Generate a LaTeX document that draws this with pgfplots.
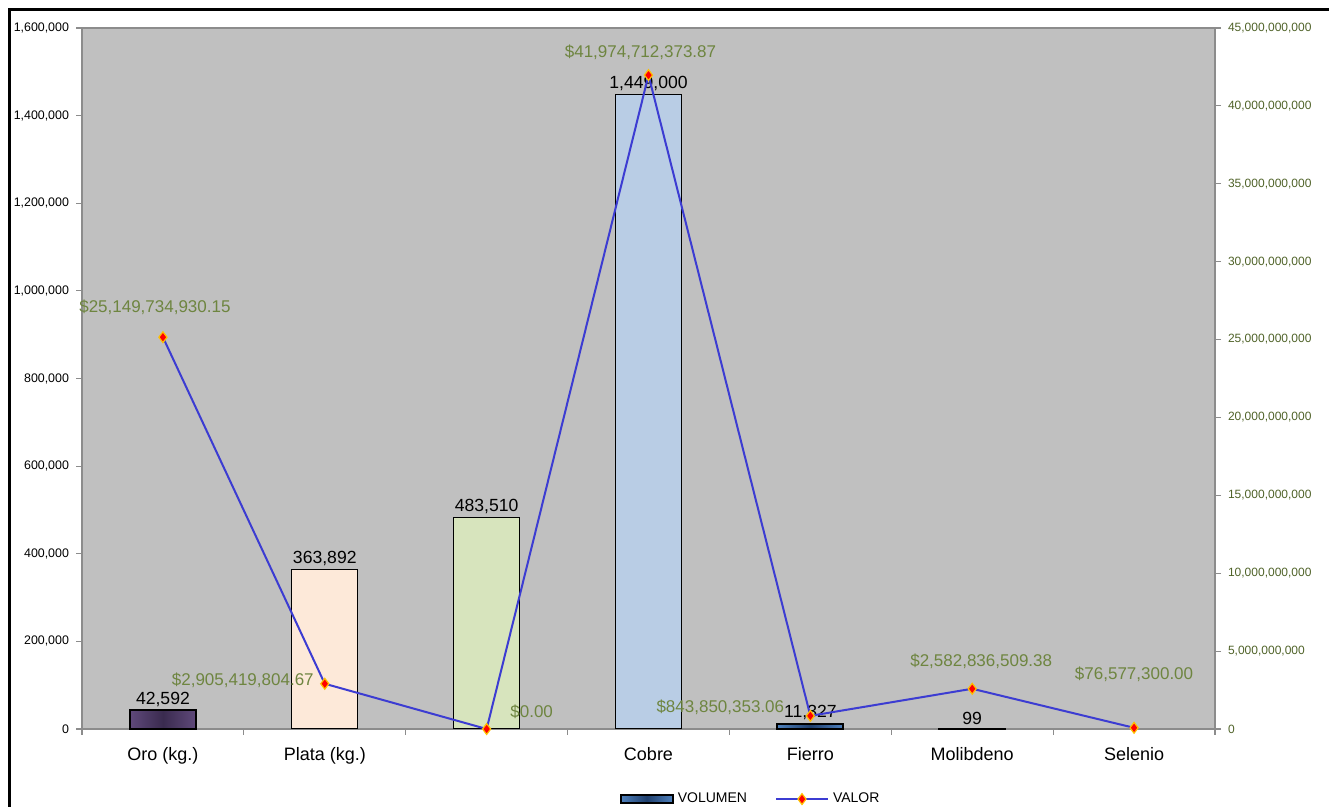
\documentclass[border=0pt]{standalone}
\usepackage{pgfplots}
\pgfplotsset{compat=1.18}
\usepackage{fontspec}
\setmainfont{Liberation Sans}
\definecolor{bgc}{HTML}{C0C0C0}
\definecolor{axgray}{HTML}{8C8C8C}
\definecolor{oro1}{HTML}{5F497A}
\definecolor{oro2}{HTML}{3A2B4F}
\definecolor{plata}{HTML}{FDE9D9}
\definecolor{verde}{HTML}{D7E4BD}
\definecolor{cobre}{HTML}{B9CDE5}
\definecolor{fb1}{HTML}{4F81BD}
\definecolor{fb2}{HTML}{1F3F6D}
\definecolor{linea}{HTML}{3C3CD2}
\definecolor{valtxt}{HTML}{6E8540}
\definecolor{rtick}{HTML}{4F6228}
\definecolor{mkedge}{HTML}{FFC000}
\pgfplotsset{
  wideline legend/.style={legend image code/.code={\draw[##1, mark repeat=2, mark phase=2] plot coordinates {(0pt,0pt) (13pt,0pt) (26pt,0pt)};}},
  widebar legend/.style={legend image code/.code={\draw[black,line width=1pt,left color=fb1,right color=fb1,middle color=fb2] (0pt,-2pt) rectangle (26pt,2pt);}},
}
\begin{document}
\begin{tikzpicture}
\useasboundingbox (0,0) rectangle (664.5pt,403.5pt);
\draw[black, line width=1.5pt] (4.5pt,-1pt) -- (4.5pt,398.5pt) -- (665pt,398.5pt);
\begin{axis}[
  at={(41pt,39pt)}, anchor=south west,
  scale only axis, width=566.5pt, height=350.5pt,
  xmin=-0.5, xmax=6.5, ymin=0, ymax=1600000,
  axis background/.style={fill=bgc},
  axis line style={draw=axgray, line width=0.6pt},
  ybar, bar width=33pt,
  xtick={0,...,6},
  xticklabels={Oro (kg.),Plata (kg.),,Cobre,Fierro,Molibdeno,Selenio},
  major x tick style={draw=none},
  minor xtick={-0.5,0.5,...,6.5},
  minor tick length=3pt,
  minor x tick style={draw=axgray, line width=0.6pt},
  xtick pos=lower, ytick pos=left,
  tick align=outside,
  major tick length=3pt,
  ytick={0,200000,...,1600000},
  scaled y ticks=false,
  y tick style={draw=axgray, line width=0.6pt},
  yticklabel style={font=\fontsize{6.2}{7}\selectfont, /pgf/number format/fixed, /pgf/number format/1000 sep={,}},
  xticklabel style={font=\fontsize{9}{10}\selectfont, yshift=-2.5pt},
  /pgf/number format/assume math mode=true,
  nodes near coords,
  nodes near coords style={font=\fontsize{8.8}{10}\selectfont, inner sep=1.5pt, text=black, /pgf/number format/fixed, /pgf/number format/1000 sep={,}},
  clip=false,
]
\addplot[bar shift=0pt, draw=black, line width=1pt, left color=oro1, right color=oro1, middle color=oro2] coordinates {(0,42592)};
\addplot[bar shift=0pt, draw=black, line width=0.5pt, fill=plata] coordinates {(1,363892)};
\addplot[bar shift=0pt, draw=black, line width=0.5pt, fill=verde] coordinates {(2,483510)};
\addplot[bar shift=0pt, draw=black, line width=0.5pt, fill=cobre] coordinates {(3,1449000)};
\addplot[bar shift=0pt, draw=black, line width=1pt, left color=fb1, right color=fb1, middle color=fb2] coordinates {(4,11327)};
\addplot[bar shift=0pt, draw=black, line width=1pt, fill=black] coordinates {(5,99)};
\end{axis}
\begin{axis}[
  at={(41pt,39pt)}, anchor=south west,
  scale only axis, width=566.5pt, height=350.5pt,
  xmin=-0.5, xmax=6.5, ymin=0, ymax=45000000000,
  axis x line=none,
  axis y line*=right,
  axis line style={draw=axgray, line width=0.6pt},
  tick align=outside, major tick length=3pt,
  y tick style={draw=axgray, line width=0.6pt},
  ytick={0,5000000000,10000000000,15000000000,20000000000,25000000000,30000000000,35000000000,40000000000,45000000000},
  scaled y ticks=false,
  yticklabel style={font=\fontsize{6}{7}\selectfont, text=rtick, /pgf/number format/fixed, /pgf/number format/precision=0, /pgf/number format/1000 sep={,}},
  /pgf/number format/assume math mode=true,
  clip=false,
  legend style={at={(0.591,-0.1)}, anchor=center, draw=none, fill=none, legend columns=2,
    font=\fontsize{7}{8}\selectfont, /tikz/every even column/.style={column sep=12pt}},
]
\addlegendimage{widebar legend}
\addlegendentry{VOLUMEN}
\addplot[color=linea, line width=1pt, mark=diamond*, mark size=2.7pt,
  mark options={fill=red, draw=mkedge, line width=0.6pt}, wideline legend]
  coordinates {(0,25149734930.15) (1,2905419804.67) (2,0) (3,41974712373.87) (4,843850353.06) (5,2582836509.38) (6,76577300)};
\addlegendentry{VALOR}
\begin{scope}[every node/.style={font=\fontsize{8.5}{10}\selectfont, text=valtxt, inner sep=0pt}]
\node at ([xshift=-4pt,yshift=15pt]axis cs:0,25149734930.15) {\$25,149,734,930.15};
\node at ([xshift=-41pt,yshift=1.5pt]axis cs:1,2905419804.67) {\$2,905,419,804.67};
\node at ([xshift=22.5pt,yshift=8.5pt]axis cs:2,0) {\$0.00};
\node at ([xshift=-4pt,yshift=11.5pt]axis cs:3,41974712373.87) {\$41,974,712,373.87};
\node at ([xshift=-45pt,yshift=4.5pt]axis cs:4,843850353.06) {\$843,850,353.06};
\node at ([xshift=4.5pt,yshift=13.5pt]axis cs:5,2582836509.38) {\$2,582,836,509.38};
\node at ([xshift=0pt,yshift=27pt]axis cs:6,76577300) {\$76,577,300.00};
\end{scope}
\end{axis}
\end{tikzpicture}
\end{document}
